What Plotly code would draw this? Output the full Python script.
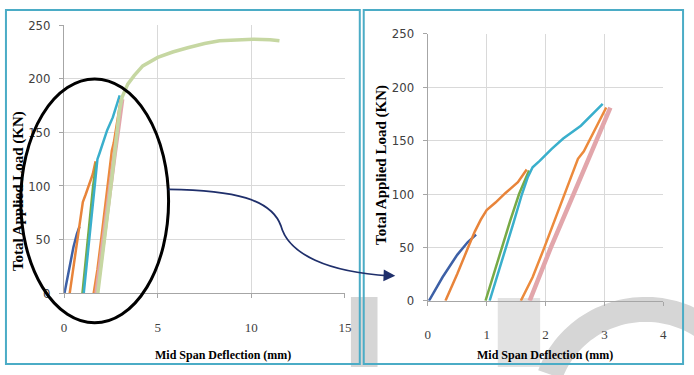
import numpy as np
import plotly.graph_objects as go

W, H = 694, 375

# ---------------- data (deflection mm, load kN) ----------------
c1_x = [0.02, 0.25, 0.50, 0.68, 0.82]
c1_y = [0, 22, 43, 55, 62]
c2_x = [0.30, 0.50, 0.70, 0.80, 0.90, 1.00, 1.15, 1.32, 1.53, 1.68]
c2_y = [0, 25, 52, 65, 76, 85, 92, 101, 111, 123]
c3_x = [0.98, 1.20, 1.40, 1.55, 1.72]
c3_y = [0, 40, 75, 100, 122]
c4_x = [1.05, 1.25, 1.45, 1.60, 1.70, 1.78, 1.90, 2.10, 2.30, 2.60, 2.80, 2.97]
c4_y = [0, 35, 72, 100, 116, 125, 131, 142, 152, 164, 175, 184.5]
c5_x = [1.58, 1.78, 1.98, 2.15, 2.35, 2.55, 2.65, 2.85, 3.03]
c5_y = [0, 22, 50, 75, 104, 133, 140, 162, 181]
c6_x = [1.73, 1.90, 2.09, 2.40, 2.70, 2.90, 3.10]
c6_y = [0, 24, 50, 90, 130, 155, 181]
c7_x = [1.80, 2.10, 2.40, 2.70, 2.95, 3.10, 3.40, 3.74, 4.20, 5.00, 5.80, 6.60,
        7.50, 8.30, 9.20, 10.1, 11.0, 11.5]
c7_y = [0, 40, 85, 130, 170, 183, 195, 203, 212, 220, 225, 229, 233, 235.5,
        236.5, 237, 236.5, 235.5]

left_ticks_x = [0, 5, 10, 15]
right_ticks_x = [0, 1, 2, 3, 4]
ticks_y = [0, 50, 100, 150, 200, 250]

x_title = "Mid Span Deflection (mm)"
y_title = "Total Applied Load (KN)"

series = [
    (c1_x, c1_y, "#3d60a6", 2.5),
    (c2_x, c2_y, "#e8843a", 2.5),
    (c3_x, c3_y, "#78aa46", 2.5),
    (c4_x, c4_y, "#3aafcc", 2.5),
    (c5_x, c5_y, "#ec8a3c", 2.5),
    (c6_x, c6_y, "#e2a6ab", 4.5),
]
olive = (c7_x, c7_y, "#c6d7a2", 3.5)


def X(px):
    return px / W


def Y(py):
    return 1 - py / H


fig = go.Figure()

# left panel: all cycles incl. final
for (xs, ys, col, w) in series + [olive]:
    fig.add_trace(go.Scatter(x=xs, y=ys, mode="lines", line=dict(color=col, width=w),
                             xaxis="x", yaxis="y", showlegend=False, hoverinfo="skip"))
# right panel: zoomed cycles
for (xs, ys, col, w) in series:
    fig.add_trace(go.Scatter(x=xs, y=ys, mode="lines", line=dict(color=col, width=w),
                             xaxis="x2", yaxis="y2", showlegend=False, hoverinfo="skip"))

grid = "#d9d9d9"
axl = "#a6a6a6"
xfont = dict(family="Liberation Serif, Times New Roman, serif", size=13, color="#404040")
yfont = dict(family="Liberation Sans Narrow, Arial Narrow, DejaVu Sans Condensed, Liberation Sans, sans-serif",
             size=13, color="#404040")

common_x = dict(showgrid=True, gridcolor=grid, gridwidth=1, zeroline=False, showline=True,
                linecolor=axl, linewidth=1, ticks="outside", ticklen=4, tickcolor=axl,
                tickfont=xfont, fixedrange=True)
common_y = dict(showgrid=True, gridcolor=grid, gridwidth=1, zeroline=False, showline=True,
                linecolor=axl, linewidth=1, ticks="outside", ticklen=4, tickcolor=axl,
                tickfont=yfont, fixedrange=True, tickvals=ticks_y)

fig.update_layout(
    width=W, height=H, margin=dict(l=0, r=0, t=0, b=0),
    paper_bgcolor="white", plot_bgcolor="rgba(0,0,0,0)",
    xaxis=dict(domain=[X(62), X(347)], range=[0, 15], tickvals=left_ticks_x,
               anchor="y", ticklabelstandoff=18, **common_x),
    yaxis=dict(domain=[Y(298), Y(19)], range=[0, 250], anchor="x",
               ticklabelstandoff=6, **common_y),
    xaxis2=dict(domain=[X(431), X(670)], range=[0, 4], tickvals=right_ticks_x,
                anchor="y2", ticklabelstandoff=18, **common_x),
    yaxis2=dict(domain=[Y(306), Y(28)], range=[0, 250], anchor="x2",
                ticklabelstandoff=6, **common_y),
)

shapes = []
# watermark (light grey letters at the bottom)
wm = "#d6d6d6"
shapes.append(dict(type="rect", xref="paper", yref="paper", x0=X(353), x1=X(380), y0=Y(375), y1=Y(302),
                   fillcolor=wm, line=dict(width=0), layer="below"))
shapes.append(dict(type="rect", xref="paper", yref="paper", x0=X(502), x1=X(545), y0=Y(375), y1=Y(303),
                   fillcolor="#e2e2e2", line=dict(width=0), layer="below"))
cx, cy, ro, ri = 652, 418, 116, 90
a = np.radians(np.linspace(-160, -40, 50))
outer = [(cx + ro * np.cos(t), cy + ro * np.sin(t)) for t in a]
inner = [(cx + ri * np.cos(t), cy + ri * np.sin(t)) for t in a[::-1]]
pts = outer + inner
p = "M " + " L ".join(f"{X(u):.5f},{Y(v):.5f}" for u, v in pts) + " Z"
shapes.append(dict(type="path", xref="paper", yref="paper", path=p, fillcolor=wm,
                   line=dict(width=0), layer="below"))

# panel borders
bc = "#4bacc6"
shapes.append(dict(type="rect", xref="paper", yref="paper", x0=X(3), x1=X(362), y0=Y(372), y1=Y(3),
                   line=dict(color=bc, width=2), layer="above"))
shapes.append(dict(type="rect", xref="paper", yref="paper", x0=X(366), x1=X(690), y0=Y(372), y1=Y(3),
                   line=dict(color=bc, width=2), layer="above"))

# ellipse highlighting the early cycles
shapes.append(dict(type="circle", xref="paper", yref="paper", x0=X(18), x1=X(168), y0=Y(329), y1=Y(75),
                   line=dict(color="black", width=3), layer="above"))

# connecting arrow
arrow_pts = [(168, 190), (235, 191), (272, 200), (282, 228), (290, 258), (330, 276), (392, 280)]
ap = (f"M {X(arrow_pts[0][0]):.5f},{Y(arrow_pts[0][1]):.5f} "
      f"C {X(arrow_pts[1][0]):.5f},{Y(arrow_pts[1][1]):.5f} {X(arrow_pts[2][0]):.5f},{Y(arrow_pts[2][1]):.5f} "
      f"{X(arrow_pts[3][0]):.5f},{Y(arrow_pts[3][1]):.5f} "
      f"C {X(arrow_pts[4][0]):.5f},{Y(arrow_pts[4][1]):.5f} {X(arrow_pts[5][0]):.5f},{Y(arrow_pts[5][1]):.5f} "
      f"{X(arrow_pts[6][0]):.5f},{Y(arrow_pts[6][1]):.5f}")
shapes.append(dict(type="path", xref="paper", yref="paper", path=ap,
                   line=dict(color="#1f2f6b", width=1.8), layer="above"))
fig.update_layout(shapes=shapes)

tfont = dict(family="Liberation Serif, Times New Roman, serif", size=12, color="black")
yt_font = dict(family="Liberation Serif, Times New Roman, serif", size=15, color="black")
ann = [
    dict(x=X(398), y=Y(280), ax=-12, ay=-0.5, xref="paper", yref="paper", text="", showarrow=True,
         arrowhead=2, arrowsize=1.3, arrowwidth=1.8, arrowcolor="#1f2f6b"),
    dict(x=X(223), y=Y(362), xref="paper", yref="paper", text=f"<b>{x_title}</b>", showarrow=False,
         font=tfont, xanchor="center", yanchor="middle"),
    dict(x=X(550), y=Y(362), xref="paper", yref="paper", text=f"<b>{x_title}</b>", showarrow=False,
         font=tfont, xanchor="center", yanchor="middle"),
    dict(x=X(16), y=Y(192), xref="paper", yref="paper", text=f"<b>{y_title}</b>", showarrow=False,
         font=yt_font, textangle=-90, xanchor="center", yanchor="middle"),
    dict(x=X(384), y=Y(164), xref="paper", yref="paper", text=f"<b>{y_title}</b>", showarrow=False,
         font=yt_font, textangle=-90, xanchor="center", yanchor="middle"),
]
fig.update_layout(annotations=ann)

fig.write_html("out.html")
